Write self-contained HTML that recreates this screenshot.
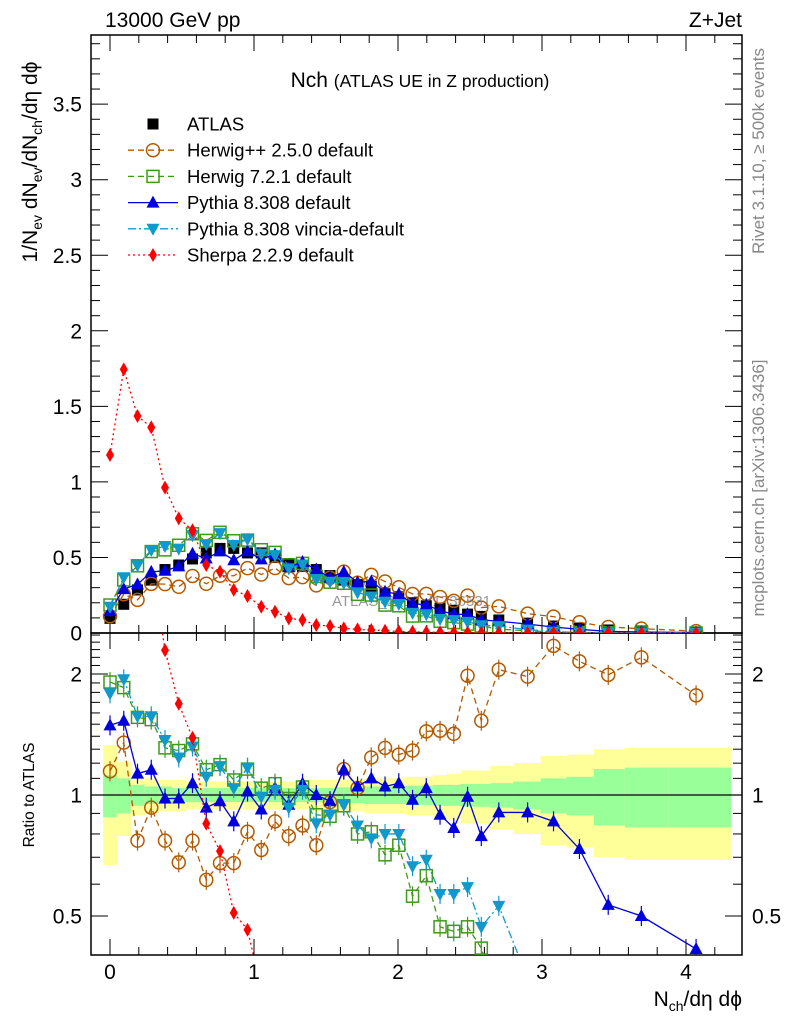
<!DOCTYPE html>
<html><head><meta charset="utf-8"><style>
html,body{margin:0;padding:0;background:#fff;width:786px;height:1024px;overflow:hidden;}
svg{display:block;font-family:"Liberation Sans",sans-serif;}
</style></head><body>
<svg id="chart" width="786" height="1024" viewBox="0 0 786 1024" xmlns="http://www.w3.org/2000/svg">
<text x="105" y="27" font-size="21">13000 GeV pp</text>
<text x="742" y="27" font-size="21" text-anchor="end">Z+Jet</text>
<text x="420" y="87" font-size="21" text-anchor="middle">Nch <tspan font-size="17.5">(ATLAS UE in Z production)</tspan></text>
<text transform="translate(764,151) rotate(-90)" font-size="17" fill="#888" text-anchor="middle">Rivet 3.1.10, ≥ 500k events</text>
<text transform="translate(764,488) rotate(-90)" font-size="17" fill="#888" text-anchor="middle">mcplots.cern.ch [arXiv:1306.3436]</text>
<text transform="translate(37,162) rotate(-90)" font-size="21" text-anchor="middle">1/N<tspan font-size="14" dy="5">ev</tspan><tspan dy="-5"> dN</tspan><tspan font-size="14" dy="5">ev</tspan><tspan dy="-5">/dN</tspan><tspan font-size="14" dy="5">ch</tspan><tspan dy="-5">/dη dϕ</tspan></text>
<text transform="translate(34,795) rotate(-90)" font-size="15.5" text-anchor="middle">Ratio to ATLAS</text>
<text x="742" y="1006" font-size="21" text-anchor="end">N<tspan font-size="14" dy="5">ch</tspan><tspan dy="-5">/dη dϕ</tspan></text>
<text x="332" y="606" font-size="15" fill="#999">ATLAS_2019_I1736531</text>
<g id="g"></g>
</svg>
<script>
const atlas=[0.097,0.19,0.285,0.35,0.42,0.45,0.49,0.53,0.56,0.56,0.53,0.53,0.50,0.46,0.44,0.42,0.38,0.35,0.32,0.31,0.26,0.24,0.20,0.18,0.165,0.15,0.125,0.11,0.086,0.065,0.046,0.033,0.02,0.013,0.007];
const xNonUniform=[2.70,2.90,3.08,3.26,3.46,3.69,4.07];
const herwigpp=[1.146,1.35,0.77,0.93,0.77,0.68,0.77,0.615,0.677,0.677,0.81,0.73,0.86,0.79,0.84,0.75,0.96,1.16,1.04,1.24,1.31,1.26,1.29,1.44,1.445,1.42,1.98,1.53,2.05,1.97,2.35,2.15,1.99,2.2,1.77];
const herwig7=[1.91,1.85,1.56,1.54,1.31,1.29,1.34,1.156,1.19,1.09,1.16,1.04,1.067,0.98,1.047,0.893,0.885,0.94,0.80,0.81,0.71,0.75,0.56,0.63,0.47,0.458,0.47,0.416,0.3,0.22,0.15,0.1,0.07,0.05,0.03];
const pythia=[1.49,1.53,1.13,1.156,0.98,0.98,1.07,0.93,0.965,0.86,1.02,0.92,1.04,0.946,1.067,1.0,0.965,1.156,1.05,1.10,1.05,1.07,0.973,1.04,0.893,0.828,0.99,0.79,0.905,0.905,0.86,0.734,0.533,0.50,0.414];
const vincia=[1.79,1.94,1.57,1.57,1.37,1.24,1.32,1.11,1.18,1.04,1.17,0.99,1.03,0.93,1.03,0.85,0.893,0.946,0.84,0.78,0.80,0.80,0.665,0.69,0.567,0.567,0.59,0.47,0.53,0.35,0.2,0.12,0.08,0.05,0.03];
const sherpa=[1.178,1.745,1.436,1.361,0.962,0.759,0.68,0.45,0.406,0.285,0.245,0.174,0.141,0.097,0.086,0.053,0.046,0.031,0.024,0.02,0.015,0.01,0.008,0.006,0.005,0.004,0.003,0.002,0.002,0.001,0.001,0.001,0.0005,0.0003,0.0002];
const yErr=[0.33,0.21,0.11,0.1,0.09,0.09,0.08,0.08,0.08,0.08,0.08,0.08,0.08,0.08,0.08,0.09,0.09,0.09,0.09,0.1,0.1,0.1,0.11,0.11,0.12,0.13,0.15,0.15,0.18,0.2,0.25,0.26,0.3,0.31,0.31];
const gErr=[0.12,0.1,0.06,0.05,0.05,0.04,0.04,0.04,0.04,0.04,0.04,0.04,0.04,0.04,0.04,0.04,0.04,0.045,0.045,0.05,0.05,0.05,0.055,0.055,0.06,0.06,0.065,0.065,0.07,0.08,0.1,0.11,0.16,0.17,0.17];
const xTicks=[0,1,2,3,4];
const yTicks=[0,0.5,1,1.5,2,2.5,3,3.5];
const yTickLabels=["0","0.5","1","1.5","2","2.5","3","3.5"];
const rTicks=[0.5,1,2];
const rTickLabels=["0.5","1","2"];

const NS="http://www.w3.org/2000/svg";
const G=document.getElementById('g');
const L=91,R=742,T=35,MB=633,RB=955;
const X=v=>110+144*v;
const Y=v=>633-151.1*v;
const RY=r=>795-402*Math.log10(r);
const xs=atlas.map((_,i)=>i<28?i*0.0955:xNonUniform[i-28]);
function el(tag,attrs,parent){const e=document.createElementNS(NS,tag);for(const k in attrs)e.setAttribute(k,attrs[k]);(parent||G).appendChild(e);return e;}

const defs=el('defs',{});
const c1=el('clipPath',{id:'cm'},defs);el('rect',{x:L,y:T,width:R-L,height:MB-T},c1);
const c2=el('clipPath',{id:'cr'},defs);el('rect',{x:L,y:MB,width:R-L,height:RB-MB},c2);

const edges=[];for(let i=0;i<=xs.length;i++){if(i==0)edges.push(xs[0]-0.0478);else if(i==xs.length)edges.push(4.31);else edges.push((xs[i-1]+xs[i])/2);}
const bandG=el('g',{'clip-path':'url(#cr)'});


for(let i=0;i<xs.length;i++){
 const a=X(edges[i]),b=X(edges[i+1]);
 const ry=el('rect',{x:a,width:b-a+0.5,y:RY(1+yErr[i]),height:RY(1-yErr[i])-RY(1+yErr[i]),fill:'#ffff99'},bandG);
 
 
 const rg=el('rect',{x:a,width:b-a+0.5,y:RY(1+gErr[i]),height:RY(1-gErr[i])-RY(1+gErr[i]),fill:'#99ff99'},bandG);
 
 
}
const one=el('line',{x1:L,x2:R,y1:RY(1),y2:RY(1),stroke:'#000','stroke-width':1.2});



const f1=el('rect',{x:L,y:T,width:R-L,height:MB-T,fill:'none',stroke:'#000','stroke-width':1.5});


const f2=el('rect',{x:L,y:MB,width:R-L,height:RB-MB,fill:'none',stroke:'#000','stroke-width':1.5});



for(let v=0;v<=4.3;v+=0.2){
 const vv=Math.round(v*10)/10, major=Math.abs(vv-Math.round(vv))<1e-6;
 const len=major?16:8, x=X(vv);
 [[MB,-1],[T,1],[RB,-1],[MB,1]].forEach(([y0,d])=>{el('line',{x1:x,x2:x,y1:y0,y2:y0+d*len,stroke:'#000','stroke-width':1});});
}
xTicks.forEach(v=>{const t=el('text',{x:X(v),y:979,'font-size':21,'text-anchor':'middle'});t.textContent=String(v);
 
 });
for(let k=0;k<=39;k++){const v=k/10,y=Y(v),major=k%5==0,len=major?17:9;
 el('line',{x1:L,x2:L+len,y1:y,y2:y,stroke:'#000'});el('line',{x1:R,x2:R-len,y1:y,y2:y,stroke:'#000'});}
yTicks.forEach((v,i)=>{const t=el('text',{x:82,y:Y(v)+7.5,'font-size':21,'text-anchor':'end'});t.textContent=yTickLabels[i];
 
 });
const rminor=[0.4,0.5,0.6,0.7,0.8,0.9,1,1.1,1.2,1.3,1.4,1.5,1.6,1.7,1.8,1.9,2,2.1,2.2,2.3,2.4,2.5];
rminor.forEach(r=>{const y=RY(r);if(y<MB||y>RB)return;const major=rTicks.includes(r),len=major?17:9;
 el('line',{x1:L,x2:L+len,y1:y,y2:y,stroke:'#000'});el('line',{x1:R,x2:R-len,y1:y,y2:y,stroke:'#000'});});
rTicks.forEach((r,i)=>{[[82,'end'],[752,'start']].forEach(([x,a])=>{const t=el('text',{x:x,y:RY(r)+7.5,'font-size':21,'text-anchor':a});t.textContent=rTickLabels[i];
 
 });});

const series=[
 {name:'herwigpp',ratio:herwigpp,col:'#b35900',dash:'6,4',m:'circle'},
 {name:'herwig7',ratio:herwig7,col:'#3f9a1a',dash:'6,4',m:'square'},
 {name:'pythia',ratio:pythia,col:'#0000dd',dash:'',m:'up'},
 {name:'vincia',ratio:vincia,col:'#1199cc',dash:'8,3,2,3',m:'down'},
 {name:'sherpa',ratio:sherpa.map((s,i)=>s/atlas[i]),main:sherpa,col:'#ff0000',dash:'2,3',m:'diamond'}
];
function marker(m,x,y,col,parent){
 if(m=='circle')return el('circle',{cx:x,cy:y,r:6.5,fill:'none',stroke:col,'stroke-width':1.5},parent);
 if(m=='square')return el('rect',{x:x-6,y:y-6,width:12,height:12,fill:'none',stroke:col,'stroke-width':1.5},parent);
 if(m=='up')return el('polygon',{points:`${x},${y-7} ${x-6.5},${y+5} ${x+6.5},${y+5}`,fill:col},parent);
 if(m=='down')return el('polygon',{points:`${x},${y+7} ${x-6.5},${y-5} ${x+6.5},${y-5}`,fill:col},parent);
 if(m=='diamond')return el('polygon',{points:`${x},${y-7} ${x-4},${y} ${x},${y+7} ${x+4},${y}`,fill:col},parent);
 if(m=='sq')return el('rect',{x:x-5.5,y:y-5.5,width:11,height:11,fill:col},parent);
}
// atlas data drawn first (models on top as in reference)
const ga=el('g',{'clip-path':'url(#cm)'});


xs.forEach((x,i)=>{const mk=marker('sq',X(x),Y(atlas[i]),'#000',ga);
 
 });
series.forEach(s=>{
 const main=s.main||s.ratio.map((r,i)=>r*atlas[i]);
 const gm=el('g',{'clip-path':'url(#cm)'});
 
 
 const pl=el('polyline',{points:xs.map((x,i)=>X(x)+','+Y(main[i])).join(' '),fill:'none',stroke:s.col,'stroke-width':1.3,'stroke-dasharray':s.dash},gm);
 
 
 xs.forEach((x,i)=>{const mk=marker(s.m,X(x),Y(main[i]),s.col,gm);
  
  });
 const gr=el('g',{'clip-path':'url(#cr)'});
 
 
 const pr=el('polyline',{points:xs.map((x,i)=>X(x)+','+RY(Math.max(s.ratio[i],0.05))).join(' '),fill:'none',stroke:s.col,'stroke-width':1.3,'stroke-dasharray':s.dash},gr);
 
 
 xs.forEach((x,i)=>{const y=RY(Math.max(s.ratio[i],0.05));
  if(s.m!='diamond'){el('line',{x1:X(x),x2:X(x),y1:y-10,y2:y+10,stroke:s.col,'stroke-width':1.2},gr);}
  const mk=marker(s.m,X(x),y,s.col,gr);
  
  });
});

const leg=[['ATLAS','sq','#000',null],['Herwig++ 2.5.0 default','circle','#b35900','6,4'],['Herwig 7.2.1 default','square','#3f9a1a','6,4'],['Pythia 8.308 default','up','#0000dd',''],['Pythia 8.308 vincia-default','down','#1199cc','8,3,2,3'],['Sherpa 2.2.9 default','diamond','#ff0000','2,3']];
leg.forEach((l,i)=>{const y=124+i*26.2;
 const g=el('g',{});
 
 
 if(l[3]!==null)el('line',{x1:128,x2:178,y1:y,y2:y,stroke:l[2],'stroke-width':1.3,'stroke-dasharray':l[3]},g);
 marker(l[1],153,y,l[2],g);
 const t=el('text',{x:187,y:y+6.5,'font-size':18.5},g);t.textContent=l[0];});
</script>
</body></html>
